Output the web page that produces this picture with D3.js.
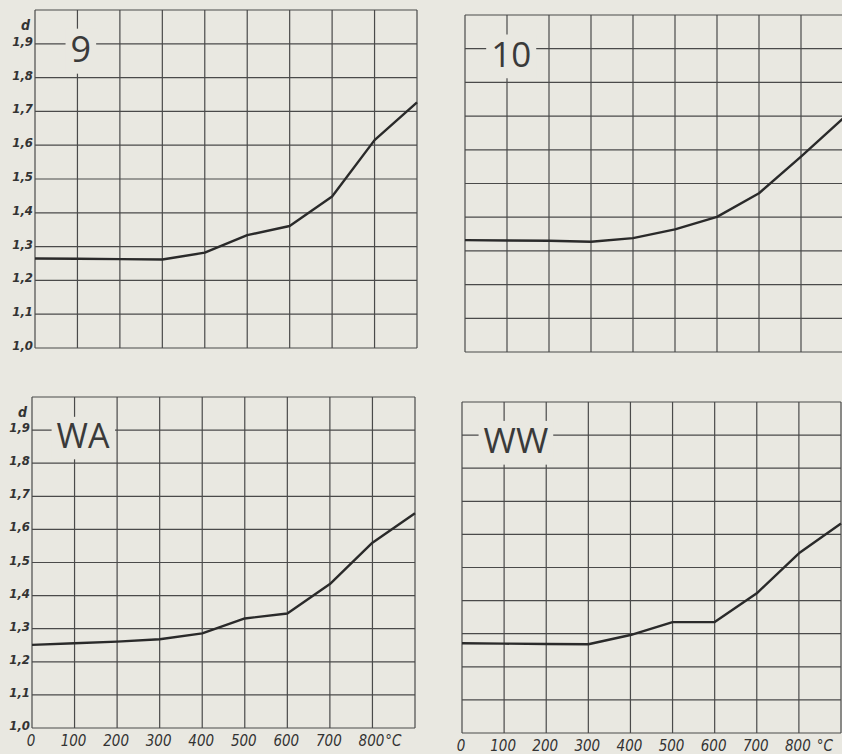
<!DOCTYPE html>
<html>
<head>
<meta charset="utf-8">
<script src="https://cdn.jsdelivr.net/npm/d3@7"></script>
<style>
  html, body { margin: 0; padding: 0; background: #e9e8e1; }
  svg { display: block; }
</style>
</head>
<body>
<svg id="chart" width="842" height="754"></svg>
<script>
// ---- data ----
const temperatures = [0, 100, 200, 300, 400, 500, 600, 700, 800, 900];
const xTickValues = [0, 100, 200, 300, 400, 500, 600, 700, 800];
const xTickLabels = ["0", "100", "200", "300", "400", "500", "600", "700", "800"];
const yTickValues = [1.0, 1.1, 1.2, 1.3, 1.4, 1.5, 1.6, 1.7, 1.8, 1.9];
const yTickLabels = ["1,0", "1,1", "1,2", "1,3", "1,4", "1,5", "1,6", "1,7", "1,8", "1,9"];
const panelNames = ["9", "10", "WA", "WW"];
const series9  = [1.265, 1.264, 1.263, 1.262, 1.282, 1.334, 1.361, 1.448, 1.615, 1.727];
const series10 = [1.332, 1.331, 1.330, 1.327, 1.338, 1.364, 1.401, 1.471, 1.580, 1.693];
const seriesWA = [1.251, 1.256, 1.261, 1.268, 1.286, 1.331, 1.346, 1.435, 1.560, 1.649];
const seriesWW = [1.271, 1.270, 1.269, 1.268, 1.296, 1.335, 1.335, 1.422, 1.543, 1.633];
const yAxisTitle = "d";
const unitLabel = "°C";

// ---- layout ----
const svg = d3.select("#chart");
const BG = "#e9e8e1";
const panels = [
  { name: panelNames[0], values: series9,  x0: 35,  x1: 417, y0: 10,  y1: 348, yLabels: true,  xLabels: false, tx: 108, fs: 36, unitGap: 1 },
  { name: panelNames[1], values: series10, x0: 465, x1: 843, y0: 15,  y1: 352, yLabels: false, xLabels: false, tx: 110, fs: 35, unitGap: 1 },
  { name: panelNames[2], values: seriesWA, x0: 32,  x1: 415, y0: 397, y1: 728, yLabels: true,  xLabels: true,  tx: 120, fs: 34, unitGap: 1 },
  { name: panelNames[3], values: seriesWW, x0: 462, x1: 841, y0: 402, y1: 733, yLabels: false, xLabels: true,  tx: 128, fs: 35, unitGap: 6 }
];

const gridColor = "#4a4a4a";
const lineColor = "#2a2a2a";
const labelFont = "DejaVu Sans Condensed, DejaVu Sans, sans-serif";

panels.forEach(p => {
  const x = d3.scaleLinear().domain([0, 900]).range([p.x0, p.x1]);
  const y = d3.scaleLinear().domain([1.0, 2.0]).range([p.y1, p.y0]);
  const g = svg.append("g");

  // grid
  g.selectAll(".vgrid").data(xTickValues.concat([900])).enter().append("line")
    .attr("x1", d => x(d)).attr("x2", d => x(d))
    .attr("y1", p.y0).attr("y2", p.y1)
    .attr("stroke", gridColor).attr("stroke-width", 1.2);
  g.selectAll(".hgrid").data(yTickValues.concat([2.0])).enter().append("line")
    .attr("x1", p.x0).attr("x2", p.x1)
    .attr("y1", d => y(d)).attr("y2", d => y(d))
    .attr("stroke", gridColor).attr("stroke-width", 1.2);

  // panel title with gap in grid
  const tg = g.append("g");
  const ty = y(1.9) + 18;
  const t = tg.append("text")
    .attr("x", x(p.tx)).attr("y", ty)
    .attr("text-anchor", "middle")
    .attr("font-family", "Open Sans, DejaVu Sans, sans-serif")
    .attr("font-size", p.fs)
    .attr("fill", "#3a3a3a")
    .text(p.name);
  const bb = t.node().getBBox();
  tg.insert("rect", "text")
    .attr("x", bb.x - 5).attr("width", bb.width + 10)
    .attr("y", ty - p.fs * 0.92).attr("height", p.fs * 1.25)
    .attr("fill", BG);

  // data line
  const line = d3.line().x((d, i) => x(temperatures[i])).y(d => y(d));
  g.append("path").datum(p.values)
    .attr("d", line)
    .attr("fill", "none")
    .attr("stroke", lineColor)
    .attr("stroke-width", 2.4)
    .attr("stroke-linejoin", "round");

  // y labels
  if (p.yLabels) {
    g.selectAll(".ylab").data(yTickValues).enter().append("text")
      .attr("x", p.x0 - 2).attr("y", d => y(d) + 2)
      .attr("text-anchor", "end")
      .attr("font-family", labelFont)
      .attr("font-style", "italic").attr("font-weight", "bold")
      .attr("font-size", 13).attr("fill", "#333")
      .text((d, i) => yTickLabels[i]);
    g.append("text")
      .attr("x", p.x0 - 5).attr("y", y(1.95) + 3)
      .attr("text-anchor", "end")
      .attr("font-family", labelFont)
      .attr("font-style", "italic").attr("font-weight", "bold")
      .attr("font-size", 14).attr("fill", "#333")
      .text(yAxisTitle);
  }

  // x labels
  if (p.xLabels) {
    const xl = g.selectAll(".xlab").data(xTickValues).enter().append("text")
      .attr("x", d => x(d) - 1).attr("y", p.y1 + 17.5)
      .attr("text-anchor", "middle")
      .attr("font-family", labelFont)
      .attr("font-style", "italic")
      .attr("font-size", 15).attr("fill", "#333")
      .text((d, i) => xTickLabels[i]);
    const last = xl.filter(d => d === 800).node();
    const lb = last.getBBox();
    g.append("text")
      .attr("x", lb.x + lb.width + p.unitGap).attr("y", p.y1 + 17.5)
      .attr("font-family", labelFont)
      .attr("font-style", "italic")
      .attr("font-size", 15).attr("fill", "#333")
      .text(unitLabel);
  }
});
</script>
</body>
</html>
